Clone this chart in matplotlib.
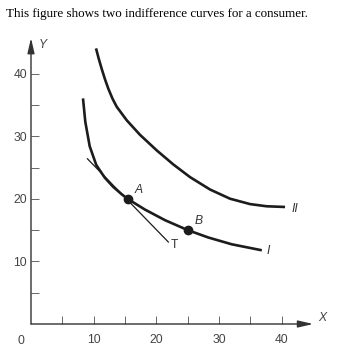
import matplotlib.pyplot as plt

# points
curve1_x = [8.29, 8.66, 9.36, 10.41, 11.75, 13.08, 14.40, 15.4, 18.18, 21.37, 25.0, 28.28, 32.0, 36.8]
curve1_y = [36.05, 32.30, 28.40, 25.40, 23.40, 21.94, 20.78, 20.0, 18.28, 16.59, 15.0, 13.82, 12.74, 11.78]
curve2_x = [10.37, 10.8, 11.28, 11.8, 12.33, 13.0, 13.67, 15.26, 17.38, 20.05, 22.7, 25.36, 28.55, 31.74, 34.93, 37.59, 40.51]
curve2_y = [44.04, 42.4, 40.75, 39.1, 37.6, 36.0, 34.71, 32.56, 30.23, 27.74, 25.49, 23.47, 21.49, 20.02, 19.16, 18.81, 18.70]

# tangent line through A
tan_x = [9.0, 21.9]
tan_y = [26.4, 13.1]

pt_names = ['A', 'B']
pt_x = [15.4, 25.0]
pt_y = [20.0, 15.0]

xticks = [5, 10, 15, 20, 25, 30, 35, 40]
xlabels = ['', '10', '', '20', '', '30', '', '40']
yticks = [5, 10, 15, 20, 25, 30, 35, 40]
ylabels = ['', '10', '', '20', '', '30', '', '40']

ink = '#1c1c1c'
grey = '#444444'
sans = 'Liberation Sans'

fig = plt.figure(figsize=(3.39, 3.54), dpi=100)
ax = fig.add_axes([31/339, 30/354, 282.2/339, 286/354])
ax.set_xlim(0, 45)
ax.set_ylim(0, 45.7)

for s in ax.spines.values():
    s.set_visible(False)

# axes drawn as arrows
arrow = dict(arrowstyle='-|>,head_length=1.3,head_width=0.3', color='#333333',
             lw=1.0, mutation_scale=7, shrinkA=0, shrinkB=0)
ax.annotate('', xy=(45, 0), xytext=(0, 0), annotation_clip=False, arrowprops=arrow)
ax.annotate('', xy=(0, 45.7), xytext=(0, 0), annotation_clip=False, arrowprops=arrow)

ax.set_xticks(xticks)
ax.set_xticklabels(xlabels)
ax.set_yticks(yticks)
ax.set_yticklabels(ylabels)
ax.tick_params(direction='in', length=6, width=0.7, color='#666666',
               labelsize=8.7, labelcolor=grey, labelfontfamily=sans)
ax.tick_params(axis='x', pad=7)
ax.tick_params(axis='y', pad=3)

ax.text(-1.6, -2.7, '0', ha='center', va='center', fontsize=8.7,
        color=grey, family=sans, clip_on=False)
ax.text(1.9, 44.6, 'Y', ha='center', va='center', fontsize=8.7,
        color=grey, style='italic', family=sans, clip_on=False)
ax.text(46.4, 1.0, 'X', ha='center', va='center', fontsize=8.7,
        color=grey, style='italic', family=sans, clip_on=False)

ax.plot(curve1_x, curve1_y, color=ink, lw=1.9, solid_capstyle='butt',
        solid_joinstyle='round', clip_on=False)
ax.plot(curve2_x, curve2_y, color=ink, lw=1.9, solid_capstyle='butt',
        solid_joinstyle='round', clip_on=False)
ax.plot(tan_x, tan_y, color=ink, lw=0.9)
ax.plot(pt_x, pt_y, 'o', color=ink, ms=6)

ax.text(17.2, 21.4, pt_names[0], ha='center', va='center', fontsize=8.7,
        color='#333333', style='italic', family=sans)
ax.text(26.7, 16.45, pt_names[1], ha='center', va='center', fontsize=8.7,
        color='#333333', style='italic', family=sans)
ax.text(22.8, 12.7, 'T', ha='center', va='center', fontsize=8.7,
        color='#333333', family=sans)
ax.text(37.85, 11.7, 'I', ha='center', va='center', fontsize=8.7,
        color='#333333', style='italic', family=sans)
ax.text(42.1, 18.3, 'II', ha='center', va='center', fontsize=8.7,
        color='#333333', style='italic', family=sans, clip_on=False)

fig.text(6/339, 1 - 16.7/354, 'This figure shows two indifference curves for a consumer.',
         ha='left', va='baseline', fontsize=9.4, family='Liberation Serif', color='black')

fig.savefig('out.png', dpi=100)
